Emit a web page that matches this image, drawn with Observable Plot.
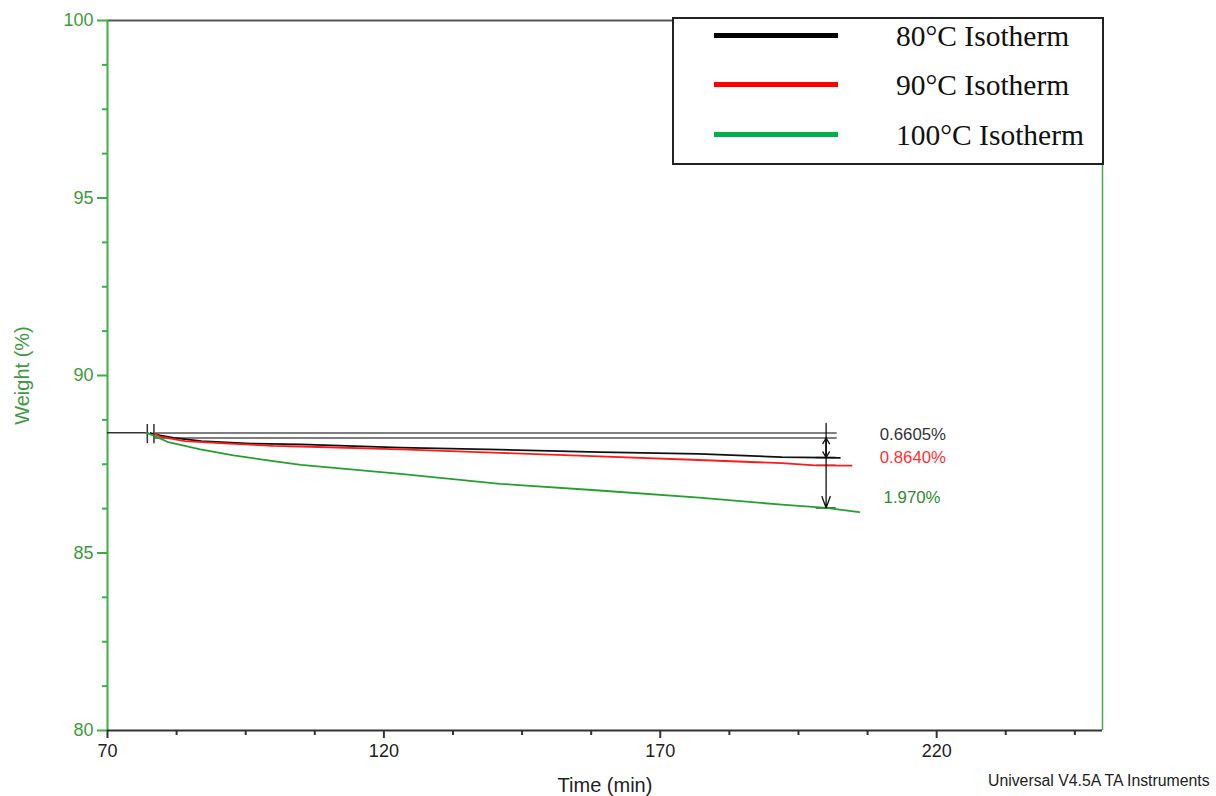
<!DOCTYPE html>
<html><head><meta charset="utf-8">
<script src="https://cdn.jsdelivr.net/npm/d3@7"></script>
<script src="https://cdn.jsdelivr.net/npm/@observablehq/plot@0.6"></script>
<style>
body{margin:0;background:#fff;}
#wrap{position:relative;width:1216px;height:796px;overflow:hidden;}
#legend{position:absolute;left:672px;top:17px;width:428px;height:144px;border:2px solid #222;background:#fff;font-family:"Liberation Serif","Times New Roman",serif;font-size:29.5px;color:#111;}
.lrow{position:absolute;left:0;width:100%;height:40px;}
.lsw{position:absolute;left:40px;width:124px;height:5px;top:17px;}
.ltx{position:absolute;left:222px;top:0;line-height:40px;white-space:nowrap;}
#footer{position:absolute;left:988px;top:772px;font-family:"Liberation Sans",Arial,sans-serif;font-size:15.8px;color:#222;white-space:nowrap;}
</style></head><body><div id="wrap"></div>
<script>
// ---- data ----
const seriesNames = ["80°C Isotherm", "90°C Isotherm", "100°C Isotherm"];
const seriesColors = ["#000000", "#ff0000", "#00b050"];
const lineColors = ["#111111", "#ff1a1a", "#22a030"];

const time80 = [77.8, 79.5, 82, 87, 96, 105, 123, 141, 159, 177, 192, 202.5];
const w80    = [88.38, 88.31, 88.24, 88.15, 88.08, 88.06, 87.97, 87.91, 87.84, 87.79, 87.70, 87.68];

const time90 = [78.5, 79.5, 84, 92, 100, 105, 123, 141, 159, 177, 192, 198, 204.6];
const w90    = [88.36, 88.28, 88.15, 88.08, 88.02, 88.00, 87.92, 87.82, 87.72, 87.62, 87.53, 87.47, 87.46];

const time100 = [77, 78.5, 81, 86.8, 92.8, 99, 105, 123, 141, 159, 177, 192, 200, 206];
const w100    = [88.38, 88.30, 88.12, 87.92, 87.75, 87.61, 87.48, 87.23, 86.95, 86.76, 86.56, 86.36, 86.27, 86.15];

const stepLabels = ["0.6605%", "0.8640%", "1.970%"];
const stepLabelY = [88.34, 87.69, 86.56];
const stepLabelX = [209.7, 209.7, 210.4];
const stepLabelColors = ["#333333", "#ff3030", "#2e8b2e"];

const xMajor = [70, 120, 170, 220];
const xMinor = [82.5, 95, 107.5, 132.5, 145, 157.5, 182.5, 195, 207.5, 232.5, 245];
const yMajor = [80, 85, 90, 95, 100];
const yMinor = [81.25, 82.5, 83.75, 86.25, 87.5, 88.75, 91.25, 92.5, 93.75, 96.25, 97.5, 98.75];

const startWeight = 88.39;
const refLevels = [88.38, 88.24];
const endLevels = [87.69, 87.47, 86.27];

const green = "#3cb043";
const greenText = "#3f9a3f";

const pts = (ts, ws) => ts.map((t, i) => ({t, w: ws[i]}));

const chart = Plot.plot({
  width: 1216, height: 796,
  marginLeft: 107, marginRight: 114, marginTop: 20, marginBottom: 66,
  x: {domain: [70, 250]},
  y: {domain: [80, 100]},
  style: {fontFamily: "Liberation Sans, Arial, sans-serif", fontSize: "18px", background: "#fff", color: "#222"},
  marks: [
    Plot.ruleY([100], {stroke: "#555", strokeWidth: 2}),
    Plot.ruleX([250], {stroke: green, strokeWidth: 1.5}),
    Plot.axisY(yMajor, {tickSize: 10, tickPadding: 4, color: greenText, stroke: green, strokeWidth: 2, fontSize: 18, label: null}),
    Plot.axisY(yMinor, {tickSize: 5, text: null, stroke: green, strokeWidth: 2, label: null}),
    Plot.axisX(xMajor, {tickSize: 8, tickPadding: 6, color: "#222", stroke: "#333", strokeWidth: 2, fontSize: 18, label: null}),
    Plot.axisX(xMinor, {tickSize: 5, text: null, stroke: "#333", strokeWidth: 2, label: null}),
    Plot.ruleX([70], {stroke: green, strokeWidth: 2}),
    Plot.ruleY([80], {stroke: "#333", strokeWidth: 2}),
    Plot.text(["Time (min)"], {frameAnchor: "bottom", dy: 61, fontSize: 20, fill: "#222", textAnchor: "middle"}),
    Plot.text(["Weight (%)"], {frameAnchor: "left", dx: -85, rotate: -90, fontSize: 20, fill: greenText, textAnchor: "middle"}),
    // annotation lines
    Plot.ruleY([startWeight], {x1: 70, x2: 77.5, stroke: "#333", strokeWidth: 1.5}),
    Plot.ruleX([77.2, 78.4], {y1: 88.62, y2: 88.08, stroke: "#333", strokeWidth: 1.5}),
    Plot.ruleY(refLevels, {x1: 78.4, x2: 202, stroke: "#555", strokeWidth: 1.5}),
    Plot.ruleY(endLevels, {x1: 198.2, x2: 201.8, stroke: "#333", strokeWidth: 1.5}),
    // data curves
    Plot.line(pts(time80, w80), {x: "t", y: "w", stroke: lineColors[0], strokeWidth: 1.8}),
    Plot.line(pts(time90, w90), {x: "t", y: "w", stroke: lineColors[1], strokeWidth: 1.8}),
    Plot.line(pts(time100, w100), {x: "t", y: "w", stroke: lineColors[2], strokeWidth: 1.8}),
    // measurement arrows
    Plot.arrow([{x1: 200, y1: 88.65, x2: 200, y2: endLevels[2]}], {x1: "x1", y1: "y1", x2: "x2", y2: "y2", stroke: "#111", strokeWidth: 1.3, headLength: 14, headAngle: 40}),
    Plot.arrow([{x1: 200, y1: refLevels[1], x2: 200, y2: endLevels[0]}], {x1: "x1", y1: "y1", x2: "x2", y2: "y2", stroke: "#111", strokeWidth: 1.3, headLength: 8, headAngle: 60}),
    Plot.arrow([{x1: 200, y1: endLevels[0], x2: 200, y2: refLevels[1]}], {x1: "x1", y1: "y1", x2: "x2", y2: "y2", stroke: "#111", strokeWidth: 1.3, headLength: 8, headAngle: 60}),
    // step labels
    Plot.text(stepLabels, {x: (d, i) => stepLabelX[i], y: (d, i) => stepLabelY[i], text: d => d, textAnchor: "start", fontSize: 16.8, fill: (d, i) => stepLabelColors[i]})
  ]
});

const wrap = document.getElementById("wrap");
wrap.appendChild(chart);

const legend = document.createElement("div");
legend.id = "legend";
const rowTops = [14, 63, 113];
seriesNames.forEach((name, i) => {
  const row = document.createElement("div");
  row.className = "lrow";
  row.style.top = (rowTops[i] - 17) + "px";
  const sw = document.createElement("div");
  sw.className = "lsw";
  sw.style.background = seriesColors[i];
  const tx = document.createElement("div");
  tx.className = "ltx";
  tx.textContent = name;
  row.appendChild(sw); row.appendChild(tx);
  legend.appendChild(row);
});
wrap.appendChild(legend);

const footer = document.createElement("div");
footer.id = "footer";
footer.textContent = "Universal V4.5A TA Instruments";
wrap.appendChild(footer);
</script>
</body></html>
